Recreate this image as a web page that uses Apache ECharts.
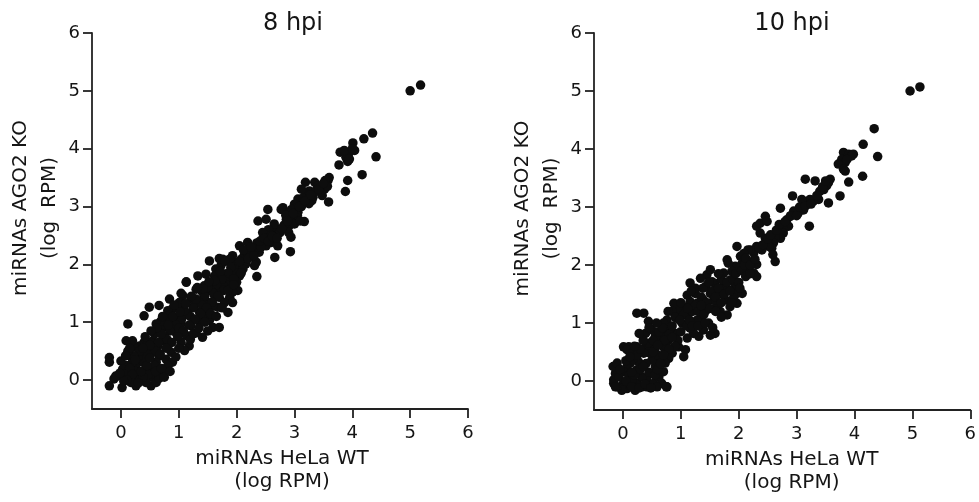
<!DOCTYPE html>
<html>
<head>
<meta charset="utf-8">
<script src="https://cdn.jsdelivr.net/npm/echarts@6/dist/echarts.min.js"></script>
<style>html,body{margin:0;padding:0;background:#fff}#c{width:979px;height:502px}</style>
</head>
<body>
<div id="c"></div>
<script>
var tickValues = [0, 1, 2, 3, 4, 5, 6];
var titles = ['8 hpi', '10 hpi'];
var xName = 'miRNAs HeLa WT\n(log RPM)';
var yName = 'miRNAs AGO2 KO\n(log  RPM)';

var points8hpi = [
[5.0,5.0],[5.18,5.1],
[4.35,4.27],[4.2,4.17],[4.41,3.86],[4.17,3.55],[4.01,4.1],[4.04,3.97],[3.94,3.92],[3.89,3.85],[3.92,3.78],[3.79,3.94],[3.77,3.72],[3.92,3.45],[3.88,3.26],[3.86,3.97],[4.0,4.0],[3.95,3.82],
[3.6,3.5],[3.58,3.45],[3.55,3.39],[3.59,3.08],[3.52,3.3],[3.48,3.19],[3.35,3.42],[3.19,3.42],[3.26,3.27],[3.32,3.16],[3.2,3.19],[3.12,3.3],[3.06,3.13],[3.17,2.74],[3.12,3.0],[3.0,3.04],[2.91,2.9],[2.97,2.81],[2.86,2.78],[2.91,2.67],[3.0,2.7],[3.06,2.9],[2.8,2.98],[2.77,2.95],[2.54,2.95],[2.37,2.75],[2.51,2.78],[2.71,2.61],[2.63,2.58],[2.69,2.5],[2.6,2.38],[2.71,2.32],[2.66,2.12],[2.93,2.22],[2.9,2.55],[2.94,2.47],[2.51,2.52],[2.57,2.44],[2.45,2.44],[2.35,2.37],[2.51,2.32],[2.28,2.26],[2.39,2.21],[2.34,2.04],[2.35,1.79],[2.31,1.98],[2.19,2.38],[2.05,2.32],[2.13,2.15],[2.22,2.21],[2.16,2.01],[2.08,2.09],[3.4,3.35],[3.45,3.25],[3.3,3.1],[3.25,3.05],[3.15,3.15],[3.38,3.28],[3.05,2.85],[2.95,2.95],[2.85,2.85],[2.75,2.55],[2.65,2.7],[2.55,2.6],[2.45,2.55],[2.42,2.3],[2.6,2.5],[2.82,2.68],[3.1,2.75],[3.53,3.45],[3.57,3.35],
[2.0,2.03],[1.93,2.15],[1.88,2.09],[2.02,1.95],[1.96,1.86],[2.05,1.8],[2.11,1.92],[2.0,1.69],[2.02,1.55],[1.93,1.52],[1.88,1.43],[1.93,1.34],[1.85,1.69],[1.76,1.63],[1.82,1.8],[1.73,1.98],[1.64,1.92],[1.76,2.09],[1.53,2.06],[1.62,1.8],[1.59,1.69],[1.47,1.83],[1.44,1.63],[1.67,1.57],[1.7,1.43],[1.62,1.46],[1.79,1.34],[1.85,1.17],[1.67,1.26],[1.59,1.29],[1.5,1.34],[1.41,1.52],[1.3,1.57],[1.33,1.8],[1.13,1.69],[1.21,1.4],[1.27,1.29],[1.39,1.37],[1.36,1.17],[1.44,1.11],[1.53,1.03],[1.59,0.91],[1.5,0.85],[1.7,0.91],[1.36,1.0],[1.3,0.82],[1.41,0.74],[1.21,0.94],[1.13,1.14],[1.04,1.29],[1.07,1.46],[1.01,1.34],[0.89,1.23],[0.81,1.2],[0.84,1.4],[0.95,1.08],[1.04,0.97],[1.13,0.77],[1.18,0.59],[1.1,0.51],[1.04,0.65],[0.95,0.82],[0.89,1.0],[0.81,1.05],[0.75,0.91],[0.69,1.02],[0.61,0.97],[0.66,0.82],[0.58,0.8],[0.55,0.68],[0.64,0.59],[0.72,0.68],[0.81,0.59],[0.87,0.48],[0.78,0.36],[0.89,0.31],[0.81,0.25],[0.72,0.13],[0.66,0.42],[0.61,0.31],[0.55,0.48],[0.52,0.65],[0.46,0.54],[0.4,0.65],[0.32,0.59],[0.43,0.42],[0.38,0.31],[0.49,0.19],[0.55,0.05],[0.52,-0.1],[0.43,-0.04],[0.61,-0.04],[0.66,0.03],[0.32,0.13],[0.26,0.25],[0.2,0.31],[0.17,0.42],[0.23,0.57],[0.2,0.68],[0.09,0.68],[0.12,0.97],[0.4,1.11],[0.49,1.26],[0.29,0.02],[0.26,-0.1],[0.17,-0.04],[0.14,0.1],[0.09,0.25],[0.0,0.33],[0.03,0.19],[-0.06,0.07],[-0.12,0.02],[-0.09,0.07],[0.02,-0.13],[-0.2,-0.1],[-0.2,0.31],[-0.2,0.39],[0.66,1.29],[1.04,1.5],[1.13,1.7],
[1.7,2.1],[1.8,2.05],[1.9,1.95],[1.85,1.85],[1.95,1.75],[2.05,2.05],[1.75,1.75],[1.65,1.65],[1.55,1.55],[1.45,1.45],[1.35,1.35],[1.25,1.25],[1.15,1.15],[1.05,1.05],[0.95,0.95],[0.85,0.85],[0.75,0.75],[0.65,0.65],[0.55,0.55],[0.45,0.45],[0.35,0.35],[0.25,0.15],[0.15,0.2],[0.05,0.1],
[1.6,1.5],[1.5,1.6],[1.4,1.3],[1.3,1.4],[1.2,1.1],[1.1,1.2],[1.0,0.9],[0.9,1.1],[0.8,0.7],[0.7,0.8],[0.6,0.5],[0.5,0.6],[0.4,0.3],[0.3,0.4],[0.2,0.1],[0.1,0.0],
[1.78,1.55],[1.68,1.45],[1.58,1.35],[1.48,1.25],[1.38,1.15],[1.28,1.05],[1.18,0.95],[1.08,0.85],[0.98,0.75],[0.88,0.65],[0.78,0.55],[0.68,0.45],[0.58,0.25],[0.48,0.1],[0.38,0.05],
[1.72,1.88],[1.62,1.72],[1.52,1.7],[1.42,1.58],[1.32,1.6],[1.22,1.45],[1.12,1.32],[1.02,1.18],[0.92,1.3],[0.82,0.95],[0.72,1.1],[0.62,0.9],[0.52,0.85],[0.42,0.75],[0.32,0.5],[0.22,0.42],[0.12,0.5],
[0.3,-0.05],[0.35,0.15],[0.45,0.25],[0.25,0.35],[0.15,0.55],[0.08,0.42],[0.05,-0.02],[-0.02,0.12],[0.38,0.55],[0.5,0.38],[0.6,0.15],[0.7,0.2],[0.75,0.05],[0.85,0.15],[0.95,0.4],[1.0,0.55],[1.2,0.7],[1.25,0.8],[1.35,0.9],[1.45,1.0],[1.55,1.15],[1.65,1.1],[1.75,1.25],[1.85,1.55],[1.95,1.65],[2.08,1.85],[2.12,2.25],[2.2,2.1],[2.25,2.3],[2.3,2.15],[2.4,2.4],[2.48,2.45],[2.55,2.4],[2.62,2.48],[2.7,2.45],[2.78,2.62],[2.88,2.75],[2.98,2.88],[3.08,3.0],[3.18,3.1],[3.28,3.2],[3.42,3.3],[3.5,3.4]
];

var points10hpi = [
[4.96,5.0],[5.13,5.07],[4.34,4.35],[4.15,4.08],[4.4,3.87],[4.14,3.53],[3.9,3.43],[3.75,3.19],
[3.81,3.94],[3.9,3.91],[3.98,3.91],[3.95,3.88],[3.78,3.82],[3.84,3.77],[3.72,3.74],[3.81,3.65],[3.84,3.62],[3.87,3.82],
[3.58,3.48],[3.55,3.42],[3.52,3.37],[3.47,3.3],[3.4,3.27],[3.55,3.07],[3.32,3.45],[3.15,3.48],[3.38,3.13],[3.29,3.1],[3.23,3.13],[3.18,3.04],[3.09,3.13],[2.93,3.19],[3.22,2.67],[3.12,2.95],[3.03,2.9],[2.95,2.93],[2.89,2.84],[2.83,2.78],[2.86,2.67],[2.77,2.61],[2.72,2.98],[2.77,2.55],[2.72,2.46],[2.63,2.49],[2.6,2.38],[2.57,2.29],[2.63,2.06],[2.59,2.18],[2.52,2.32],[2.46,2.46],[2.37,2.55],[2.31,2.67],[2.37,2.72],[2.46,2.84],[2.49,2.75],[2.26,2.21],[2.31,2.32],[2.4,2.26],[2.2,2.26],[2.14,2.09],[2.23,2.03],[2.31,2.01],[2.26,1.86],[2.31,1.8],[2.18,1.95],[2.06,2.03],[1.97,2.32],[2.16,2.26],[2.03,2.15],[2.09,2.2],[1.94,1.98],[1.88,1.89],[1.82,2.03],[1.8,2.09],[1.74,1.86],[1.85,1.74],[1.94,1.63],[2.06,1.51],[1.97,1.51],[1.97,1.34],[1.91,1.43],[1.82,1.57],[1.74,1.63],[1.68,1.51],[1.77,1.4],[1.85,1.28],[1.8,1.14],[1.68,1.2],[1.62,1.31],[1.57,1.4],[1.51,1.51],[1.54,1.71],[1.45,1.83],[1.51,1.92],[1.59,1.68],[1.43,1.63],[1.34,1.77],[1.16,1.69],[1.25,1.51],[1.11,1.48],[1.16,1.37],[1.28,1.34],[1.39,1.4],[1.45,1.23],[1.36,1.11],[1.28,1.05],[1.48,1.0],[1.39,0.88],[1.59,0.82],[1.51,0.79],[1.31,0.77],[1.22,0.82],[1.16,0.91],[1.11,1.14],[1.05,1.28],[0.96,1.23],[0.88,1.34],[0.85,1.2],[0.93,1.08],[1.02,1.0],[1.11,0.74],[1.08,0.54],[1.05,0.42],[0.96,0.59],[0.9,0.82],[0.82,0.91],[0.76,1.05],[0.7,1.0],[0.73,0.82],[0.67,0.77],[0.62,0.65],[0.7,0.59],[0.79,0.71],[0.85,0.48],[0.79,0.39],[0.73,0.31],[0.65,0.42],[0.59,0.36],[0.56,0.25],[0.5,0.36],[0.47,0.48],[0.41,0.59],[0.36,0.48],[0.39,0.82],[0.5,0.88],[0.44,1.03],[0.56,0.77],[0.36,1.17],[0.24,1.17],[0.47,0.13],[0.41,0.02],[0.53,-0.04],[0.62,0.07],[0.7,0.16],[0.76,-0.1],[0.67,-0.04],[0.59,-0.1],[0.33,-0.1],[0.24,-0.04],[0.21,-0.16],[0.33,0.07],[0.24,0.19],[0.27,0.33],[0.18,0.39],[0.13,0.31],[0.07,0.25],[0.01,0.16],[0.1,0.1],[0.16,0.02],[0.07,-0.13],[0.01,-0.04],[-0.02,-0.16],[-0.1,-0.1],[-0.16,0.02],[-0.13,0.13],[-0.17,0.25],[-0.1,0.31],[0.01,0.59],[0.1,0.59],[0.07,0.54],[0.18,0.51],[0.24,0.59],[-0.16,-0.04],[-0.13,-0.1],[-0.07,0.07],[0.41,-0.1],[0.75,-0.1],
[0.05,0.0],[0.15,-0.1],[0.28,-0.12],[0.38,-0.05],[0.48,-0.12],[0.2,0.1],[0.3,0.2],[0.4,0.3],[0.45,0.15],[0.55,0.1],[0.6,0.2],[0.35,0.25],[0.25,0.45],[0.15,0.15],[0.05,0.35],[-0.05,0.2],[0.12,0.42],[0.3,0.55],[0.45,0.65],[0.55,0.55],[0.6,0.45],[0.52,0.7],[0.62,0.85],[0.68,0.92],[0.58,1.0],[0.45,0.92],[0.75,0.6],[0.8,0.8],[0.85,0.95],[0.9,1.1],[0.95,0.7],[1.0,0.85],[1.05,1.15],[1.1,0.95],[1.15,1.05],[1.2,1.2],[1.25,1.3],[1.2,0.95],[1.3,1.2],[1.35,1.45],[1.3,0.95],[1.4,1.15],[1.45,1.35],[1.5,1.25],[1.55,1.55],[1.6,1.45],[1.65,1.6],[1.6,1.2],[1.7,1.35],[1.75,1.5],[1.7,1.75],[1.8,1.7],[1.85,1.55],[1.9,1.75],[1.95,1.85],[2.0,1.7],[2.05,1.9],[2.1,2.0],[2.12,2.12],[2.2,2.0],[2.28,2.1],[2.35,2.3],[2.42,2.35],[2.5,2.45],[2.55,2.52],[2.65,2.6],[2.7,2.7],[2.8,2.75],[2.9,2.85],[3.0,2.85],[3.05,3.0],[3.15,3.02],[3.25,3.05],[3.35,3.2],[3.45,3.35],[3.5,3.45],[1.0,1.35],[0.9,0.6],[0.8,0.55],[0.65,0.3],[0.7,0.45],[0.35,0.7],[0.28,0.82],[0.2,0.6],[0.52,0.5],[1.25,1.6],[1.38,1.6],[1.18,1.55],[1.48,1.7],[1.65,1.85],[1.12,1.25],[0.98,1.05],[0.78,1.2],[0.72,0.7],[0.6,0.62],[0.85,0.75],[1.35,1.3],[1.42,1.0],[1.55,0.92],[1.7,1.1],[1.88,1.35],[2.02,1.6],[2.12,1.8],[2.2,1.85]
];

var FONT = 'DejaVu Sans';
var TXT = '#151515';
var AX = '#222222';

function xAxisFor(i, padLeft) {
  return {
    type: 'value', gridIndex: i, min: -0.5, max: 6,
    name: xName, nameLocation: 'middle', nameGap: 37,
    nameTextStyle: { fontFamily: FONT, fontSize: 20, lineHeight: 23, color: TXT, padding: [0, 0, 0, padLeft] },
    axisLine: { show: true, onZero: false, lineStyle: { color: AX, width: 1.8 } },
    axisTick: { show: true, inside: false, length: 9, customValues: tickValues, lineStyle: { color: AX, width: 1.8 } },
    axisLabel: { show: true, margin: 15, customValues: tickValues, fontFamily: FONT, fontSize: 18, color: TXT },
    splitLine: { show: false }
  };
}
function yAxisFor(i) {
  return {
    type: 'value', gridIndex: i, min: -0.5, max: 6,
    name: yName, nameLocation: 'middle', nameGap: 25, nameRotate: 90,
    nameTextStyle: { fontFamily: FONT, fontSize: 20, lineHeight: 29, color: TXT, padding: [0, 0, 0, 26] },
    axisLine: { show: true, onZero: false, lineStyle: { color: AX, width: 1.8 } },
    axisTick: { show: true, inside: false, length: 9, customValues: tickValues, lineStyle: { color: AX, width: 1.8 } },
    axisLabel: { show: true, margin: 12, customValues: tickValues, fontFamily: FONT, fontSize: 18, color: TXT },
    splitLine: { show: false }
  };
}

var chart = echarts.init(document.getElementById('c'), null, { renderer: 'canvas' });
chart.setOption({
  backgroundColor: '#ffffff',
  animation: false,
  title: [
    { text: titles[0], left: 293, top: 12, padding: 0, textAlign: 'center', textStyle: { fontFamily: FONT, fontSize: 24, fontWeight: 'normal', color: TXT } },
    { text: titles[1], left: 792, top: 12, padding: 0, textAlign: 'center', textStyle: { fontFamily: FONT, fontSize: 24, fontWeight: 'normal', color: TXT } }
  ],
  grid: [
    { left: 92, top: 33, width: 376, height: 376 },
    { left: 594, top: 33, width: 377, height: 377 }
  ],
  xAxis: [xAxisFor(0, 4), xAxisFor(1, 19)],
  yAxis: [yAxisFor(0), yAxisFor(1)],
  series: [
    { type: 'scatter', xAxisIndex: 0, yAxisIndex: 0, data: points8hpi, symbol: 'circle', symbolSize: 9.5, itemStyle: { color: '#0d0d0d', opacity: 1 } },
    { type: 'scatter', xAxisIndex: 1, yAxisIndex: 1, data: points10hpi, symbol: 'circle', symbolSize: 9.5, itemStyle: { color: '#0d0d0d', opacity: 1 } }
  ]
});
</script>
</body>
</html>
